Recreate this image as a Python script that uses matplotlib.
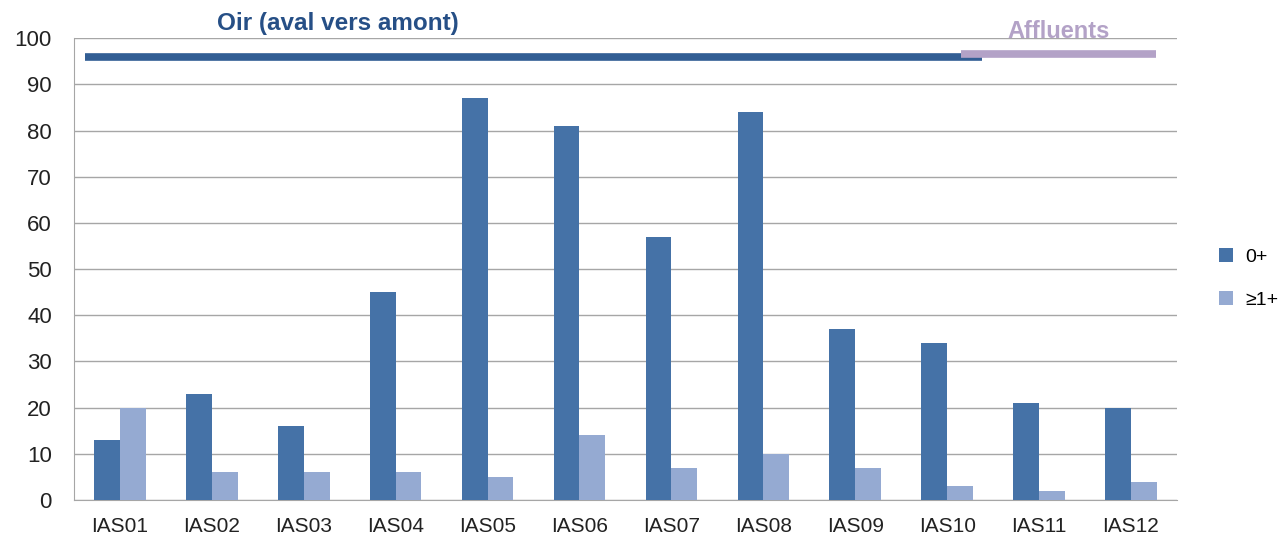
import matplotlib.pyplot as plt
import numpy as np

plt.rcParams['font.family'] = ['Liberation Sans', 'DejaVu Sans']

stations = ['IAS01', 'IAS02', 'IAS03', 'IAS04', 'IAS05', 'IAS06',
            'IAS07', 'IAS08', 'IAS09', 'IAS10', 'IAS11', 'IAS12']
age0 = [13, 23, 16, 45, 87, 81, 57, 84, 37, 34, 21, 20]
age1 = [20, 6, 6, 6, 5, 14, 7, 10, 7, 3, 2, 4]

# group bands drawn across the top (start, end in category units, level)
oir_span = [-0.38, 9.38]
oir_level = 96
affl_span = [9.15, 11.27]
affl_level = 96.5

dark = '#4572A7'
light = '#95AAD2'

fig = plt.figure(figsize=(12.78, 5.44), dpi=100)
ax = fig.add_axes([0.0579, 0.0809, 0.863, 0.849])

x = np.arange(len(stations))
w = 0.28
ax.bar(x - w/2, age0, w, color=dark, label='0+', zorder=3)
ax.bar(x + w/2, age1, w, color=light, label='≥1+', zorder=3)

ax.plot(oir_span, [oir_level, oir_level], color='#325E94', lw=5.5,
        solid_capstyle='butt', zorder=4)
ax.plot(affl_span, [affl_level, affl_level], color='#B3A2C7', lw=5.5,
        solid_capstyle='butt', zorder=5)

ax.set_xlim(-0.5, 11.5)
ax.set_ylim(0, 100)
ax.set_yticks(range(0, 101, 10))
ax.set_xticks(x)
ax.set_xticklabels(stations)
ax.tick_params(length=0, colors='#222222')
ax.tick_params(axis='y', labelsize=16, pad=16)
ax.tick_params(axis='x', labelsize=15, pad=12)
ax.yaxis.grid(True, color='#A6A6A6', lw=1)
ax.set_axisbelow(True)
for s in ['top', 'right']:
    ax.spines[s].set_visible(False)
for s in ['left', 'bottom']:
    ax.spines[s].set_color('#A6A6A6')

fig.text(0.264, 0.956, 'Oir (aval vers amont)', color='#264F86',
         fontsize=17.5, fontweight='bold', ha='center', va='center')
fig.text(0.828, 0.942, 'Affluents', color='#B3A2C7',
         fontsize=17, fontweight='bold', ha='center', va='center')

leg = ax.legend(loc='center left', bbox_to_anchor=(1.031, 0.48), frameon=False,
                fontsize=14, handlelength=0.75, handleheight=0.75,
                handletextpad=0.6, labelspacing=1.3, borderaxespad=0)

fig.savefig('out.png', dpi=100)
